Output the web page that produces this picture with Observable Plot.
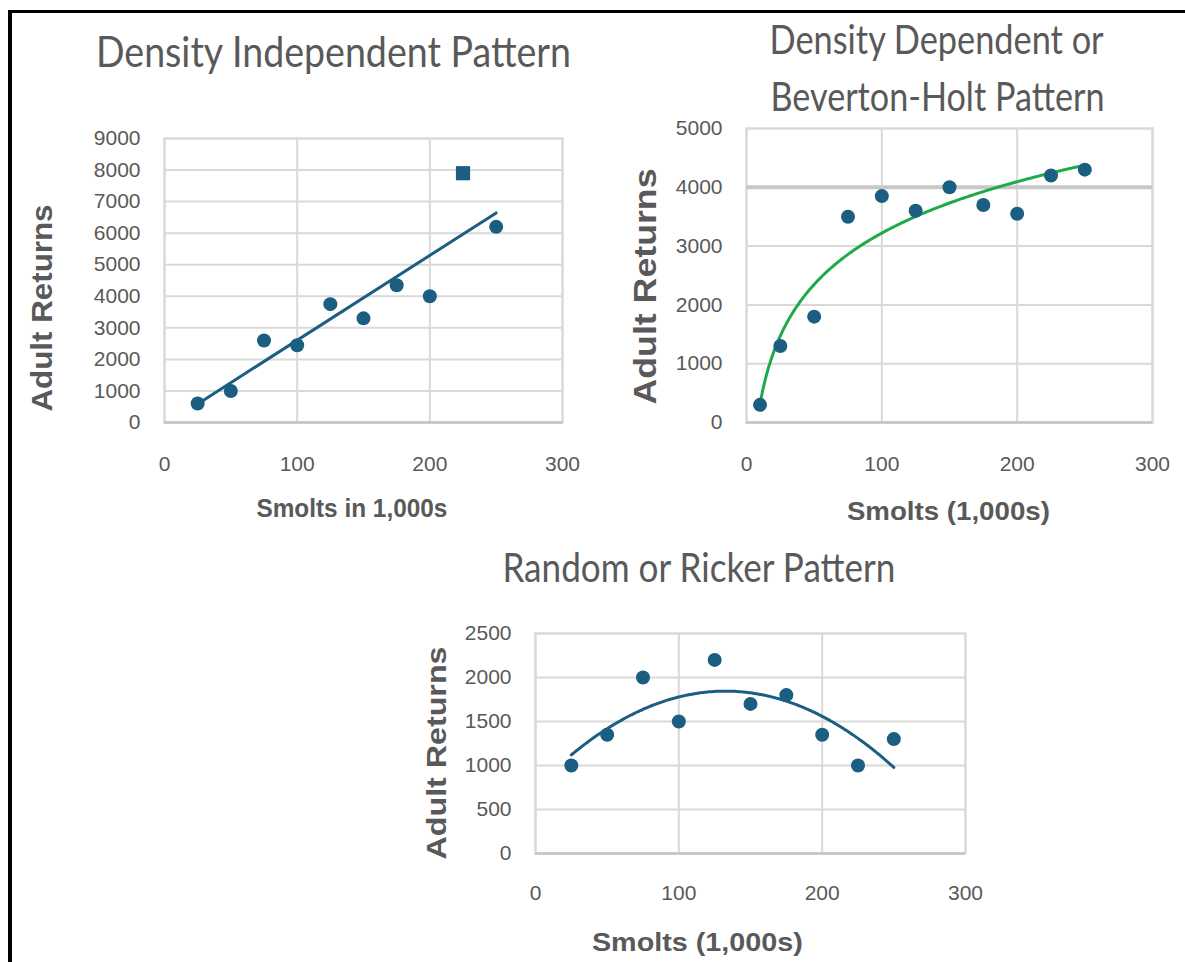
<!DOCTYPE html>
<html>
<head>
<meta charset="utf-8">
<script src="https://cdn.jsdelivr.net/npm/d3@7"></script>
<script src="https://cdn.jsdelivr.net/npm/@observablehq/plot@0.6"></script>
<style>
  html, body { margin: 0; padding: 0; background: #fff; }
  #page { position: relative; width: 1185px; height: 962px; overflow: hidden; background: #fff; }
  #border { position: absolute; left: 8px; top: 10px; right: -10px; bottom: -10px;
            border-top: 3px solid #000; border-left: 4px solid #000; }
  .panel { position: absolute; }
  .panel svg { display: block; overflow: visible; }
</style>
</head>
<body>
<div id="page"><div id="border"></div></div>
<script>
// ---------- data ----------
const xTicks = [0, 100, 200, 300];

// Panel 1: Density Independent Pattern
const smolts1  = [25, 50, 75, 100, 125, 150, 175, 200, 225, 250];
const returns1 = [600, 1000, 2600, 2450, 3750, 3300, 4350, 4000, 7900, 6200];
const marker1  = ["circle","circle","circle","circle","circle","circle","circle","circle","square","circle"];
const yTicks1  = [0, 1000, 2000, 3000, 4000, 5000, 6000, 7000, 8000, 9000];

// Panel 2: Density Dependent or Beverton-Holt Pattern
const smolts2  = [10, 25, 50, 75, 100, 125, 150, 175, 200, 225, 250];
const returns2 = [300, 1300, 1800, 3500, 3850, 3600, 4000, 3700, 3550, 4200, 4300];
const yTicks2  = [0, 1000, 2000, 3000, 4000, 5000];

// Panel 3: Random or Ricker Pattern
const smolts3  = [25, 50, 75, 100, 125, 150, 175, 200, 225, 250];
const returns3 = [1000, 1350, 2000, 1500, 2200, 1700, 1800, 1350, 1000, 1300];
const yTicks3  = [0, 500, 1000, 1500, 2000, 2500];

// ---------- styles ----------
const BLUE = "#1c5d82";
const GREEN = "#1faa48";
const GRID = "#d9d9d9";
const TEXT = "#595959";
const TICKFONT = "'Liberation Sans', Arial, sans-serif";
const TITLEFONT = "Lato, 'Open Sans', sans-serif";

const page = document.getElementById("page");

// ---------- fitted trend curves computed from the data ----------
function logFit(xs, ys) {
  const lx = xs.map(Math.log);
  const mx = d3.mean(lx), my = d3.mean(ys);
  const b = d3.sum(lx, (v, i) => (v - mx) * (ys[i] - my)) / d3.sum(lx, v => (v - mx) ** 2);
  const a = my - b * mx;
  return x => a + b * Math.log(x);
}
function quadFit(xs, ys) {
  const S = k => d3.sum(xs, x => x ** k);
  const T = k => d3.sum(xs, (x, i) => x ** k * ys[i]);
  const M = [[S(0), S(1), S(2), T(0)], [S(1), S(2), S(3), T(1)], [S(2), S(3), S(4), T(2)]];
  for (let c = 0; c < 3; c++) {
    for (let r = c + 1; r < 3; r++) {
      const f = M[r][c] / M[c][c];
      for (let k = c; k < 4; k++) M[r][k] -= f * M[c][k];
    }
  }
  const co = [0, 0, 0];
  for (let r = 2; r >= 0; r--) {
    let s = M[r][3];
    for (let k = r + 1; k < 3; k++) s -= M[r][k] * co[k];
    co[r] = s / M[r][r];
  }
  return x => co[0] + co[1] * x + co[2] * x * x;
}
function curve(xs, f) {
  const lo = d3.min(xs), hi = d3.max(xs);
  return d3.range(lo, hi + 0.5, 1).map(x => ({x, y: f(x)}));
}

// ---------- plot builder ----------
function panel({left, top, width, height, margins, yDomain, yTicks, xPad, marks}) {
  const svg = Plot.plot({
    width, height,
    marginLeft: margins[0], marginRight: margins[1], marginTop: margins[2], marginBottom: margins[3],
    x: {domain: [0, 300]},
    y: {domain: yDomain},
    style: {fontFamily: TICKFONT, fontSize: "21px", color: TEXT, background: "transparent", overflow: "visible"},
    marks: [
      Plot.gridX(xTicks.slice(1, -1), {stroke: GRID, strokeOpacity: 1, strokeWidth: 2}),
      Plot.gridY(yTicks.slice(1, -1), {stroke: GRID, strokeOpacity: 1, strokeWidth: 2}),
      Plot.frame({stroke: GRID, strokeWidth: 2.5}),
      Plot.ruleY([yDomain[0]], {stroke: "#c4c4c4", strokeWidth: 2.5}),
      Plot.axisX(xTicks, {tickSize: 0, tickPadding: xPad, tickFormat: d => `${d}`, label: null, fill: TEXT}),
      Plot.axisY(yTicks, {tickSize: 0, tickPadding: 24, tickFormat: d => `${d}`, label: null, fill: TEXT}),
      ...marks
    ]
  });
  const div = document.createElement("div");
  div.className = "panel";
  div.style.left = left + "px";
  div.style.top = top + "px";
  div.appendChild(svg);
  page.appendChild(div);
}

// ---------- overlay text (titles, axis titles) ----------
function addText(s, o) {
  const el = document.createElement("div");
  el.textContent = s;
  Object.assign(el.style, {
    position: "absolute", left: "0px", top: "0px", whiteSpace: "nowrap",
    fontFamily: o.family, fontSize: o.size + "px", fontWeight: o.weight || "normal",
    lineHeight: "1", color: TEXT, letterSpacing: (o.ls || 0) + "px"
  });
  page.appendChild(el);
  const r = el.getBoundingClientRect();
  const sx = o.width ? o.width / r.width : 1;
  el.style.left = (o.cx - r.width / 2) + "px";
  el.style.top = (o.cy - r.height / 2) + "px";
  el.style.transformOrigin = "50% 50%";
  el.style.transform = (o.rotate ? `rotate(${o.rotate}deg) ` : "") + `scaleX(${sx})`;
}

// Panel 1
const data1 = smolts1.map((x, i) => ({x, y: returns1[i], m: marker1[i]}));
panel({
  left: 0, top: 0, width: 600, height: 530, margins: [164, 38, 138, 108],
  yDomain: [0, 9000], yTicks: yTicks1, xPad: 34,
  marks: [
    Plot.linearRegressionY(data1, {x: "x", y: "y", ci: 0, stroke: BLUE, strokeWidth: 3}),
    Plot.dot(data1.filter(d => d.m === "circle"), {x: "x", y: "y", r: 7, fill: BLUE, stroke: "none"}),
    Plot.dot(data1.filter(d => d.m === "square"), {x: "x", y: "y", r: 8, symbol: "square", fill: BLUE, stroke: "none"})
  ]
});

// Panel 2
const data2 = smolts2.map((x, i) => ({x, y: returns2[i]}));
panel({
  left: 600, top: 0, width: 585, height: 530, margins: [146, 33, 128, 108],
  yDomain: [0, 5000], yTicks: yTicks2, xPad: 34,
  marks: [
    Plot.ruleY([4000], {stroke: "#c8c8c8", strokeWidth: 4}),
    Plot.line(curve(smolts2, logFit(smolts2, returns2)), {x: "x", y: "y", stroke: GREEN, strokeWidth: 3}),
    Plot.dot(data2, {x: "x", y: "y", r: 7, fill: BLUE, stroke: "none"})
  ]
});

// Panel 3
const data3 = smolts3.map((x, i) => ({x, y: returns3[i]}));
panel({
  left: 400, top: 530, width: 600, height: 432, margins: [135, 35, 103, 109],
  yDomain: [0, 2500], yTicks: yTicks3, xPad: 32,
  marks: [
    Plot.line(curve(smolts3, quadFit(smolts3, returns3)), {x: "x", y: "y", stroke: BLUE, strokeWidth: 3}),
    Plot.dot(data3, {x: "x", y: "y", r: 7, fill: BLUE, stroke: "none"})
  ]
});

// Titles
addText("Density Independent Pattern", {cx: 333, cy: 51, size: 42, family: TITLEFONT, width: 475});
addText("Density Dependent or", {cx: 937, cy: 39, size: 40, family: TITLEFONT, width: 334});
addText("Beverton-Holt Pattern", {cx: 937, cy: 96, size: 40, family: TITLEFONT, width: 334});
addText("Random or Ricker Pattern", {cx: 699, cy: 567, size: 40, family: TITLEFONT, width: 393});

// Axis titles
const AX = "'Liberation Sans', Arial, sans-serif";
addText("Adult Returns", {cx: 42, cy: 308, size: 30, weight: "bold", family: AX, width: 207, rotate: -90});
addText("Adult Returns", {cx: 645, cy: 286, size: 31, weight: "bold", family: AX, width: 236, rotate: -90});
addText("Adult Returns", {cx: 437, cy: 753, size: 28, weight: "bold", family: AX, width: 213, rotate: -90});
addText("Smolts in 1,000s", {cx: 352, cy: 508, size: 26, weight: "bold", family: AX, width: 191});
addText("Smolts (1,000s)", {cx: 948, cy: 511, size: 26, weight: "bold", family: AX, width: 203});
addText("Smolts (1,000s)", {cx: 697, cy: 942, size: 26, weight: "bold", family: AX, width: 211});
</script>
</body>
</html>
